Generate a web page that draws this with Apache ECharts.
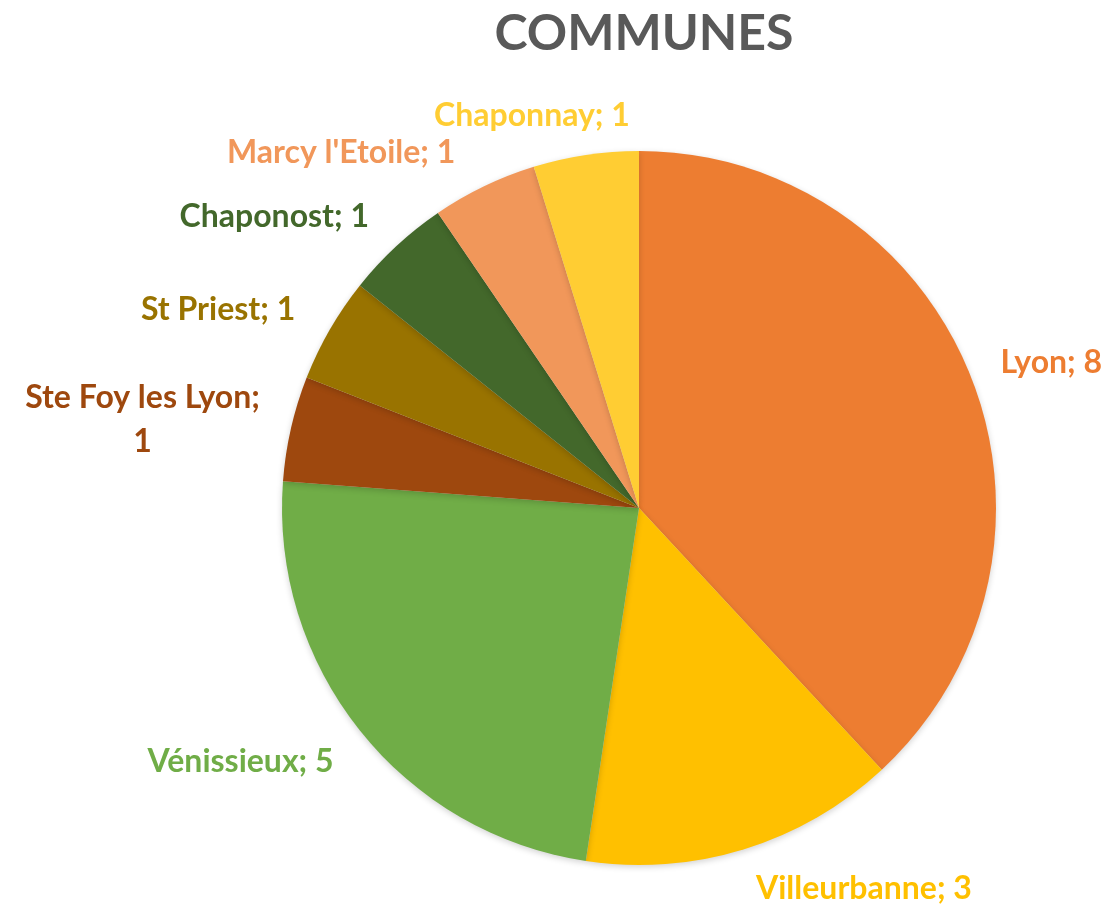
<!DOCTYPE html>
<html>
<head>
<meta charset="utf-8">
<script src="https://cdn.jsdelivr.net/npm/echarts@6/dist/echarts.min.js"></script>
<style>
  html, body { margin: 0; padding: 0; background: #fff; }
  #chart { width: 1114px; height: 907px; }
</style>
</head>
<body>
<div id="chart"></div>
<script>
var communes = ['Lyon', 'Villeurbanne', 'Vénissieux', 'Ste Foy les Lyon', 'St Priest', 'Chaponost', "Marcy l'Etoile", 'Chaponnay'];
var counts = [8, 3, 5, 1, 1, 1, 1, 1];
var colors = ['#ED7D31', '#FFC000', '#70AD47', '#9E480E', '#997300', '#43682B', '#F1975A', '#FFCD33'];

// small label nudges to mimic Excel's "best fit" placement
var labelShift = {
    'Lyon': { dx: -8 },
    'Villeurbanne': { dy: 5 },
    'Vénissieux': { dx: 5, dy: 6 },
    'Ste Foy les Lyon': { dx: 8 },
    "Marcy l'Etoile": { dx: 10, dy: -9 },
    'Chaponnay': { dx: 50 }
};

var chart = echarts.init(document.getElementById('chart'));

let data = communes.map(function (name, i) {
    let item = {
        name: name,
        value: counts[i],
        itemStyle: { color: colors[i] },
        label: { color: colors[i] }
    };
    // long name wraps onto two centred lines, like in Excel
    if (name === 'Ste Foy les Lyon') {
        item.label.formatter = '{t|{b};}\n{t|{c}}';
        item.label.rich = { t: { align: 'center', color: colors[i], fontFamily: 'Lato', fontWeight: 'bold', fontSize: 32, lineHeight: 44 } };
    }
    return item;
});

chart.setOption({
    animation: false,
    title: {
        text: 'COMMUNES',
        left: 639,
        textAlign: 'center',
        top: 4,
        textStyle: { fontFamily: 'Lato', fontWeight: 'bold', fontSize: 50, color: '#595959' }
    },
    series: [{
        type: 'pie',
        left: 0,
        right: -80, // room so "Lyon; 8" isn't truncated at the edge
        center: [639, 508],
        radius: 357,
        startAngle: 90,
        clockwise: true,
        data: data,
        itemStyle: { borderWidth: 0, shadowBlur: 6, shadowOffsetY: 2, shadowColor: 'rgba(0,0,0,0.18)' },
        label: {
            show: true,
            position: 'outside',
            formatter: '{b}; {c}',
            fontFamily: 'Lato',
            fontWeight: 'bold',
            fontSize: 32,
            lineHeight: 44,
            distanceToLabelLine: 0
        },
        labelLine: { show: false, length: 40, length2: 0 },
        labelLayout: function (params) {
            return labelShift[communes[params.dataIndex]] || {};
        }
    }]
});
</script>
</body>
</html>
